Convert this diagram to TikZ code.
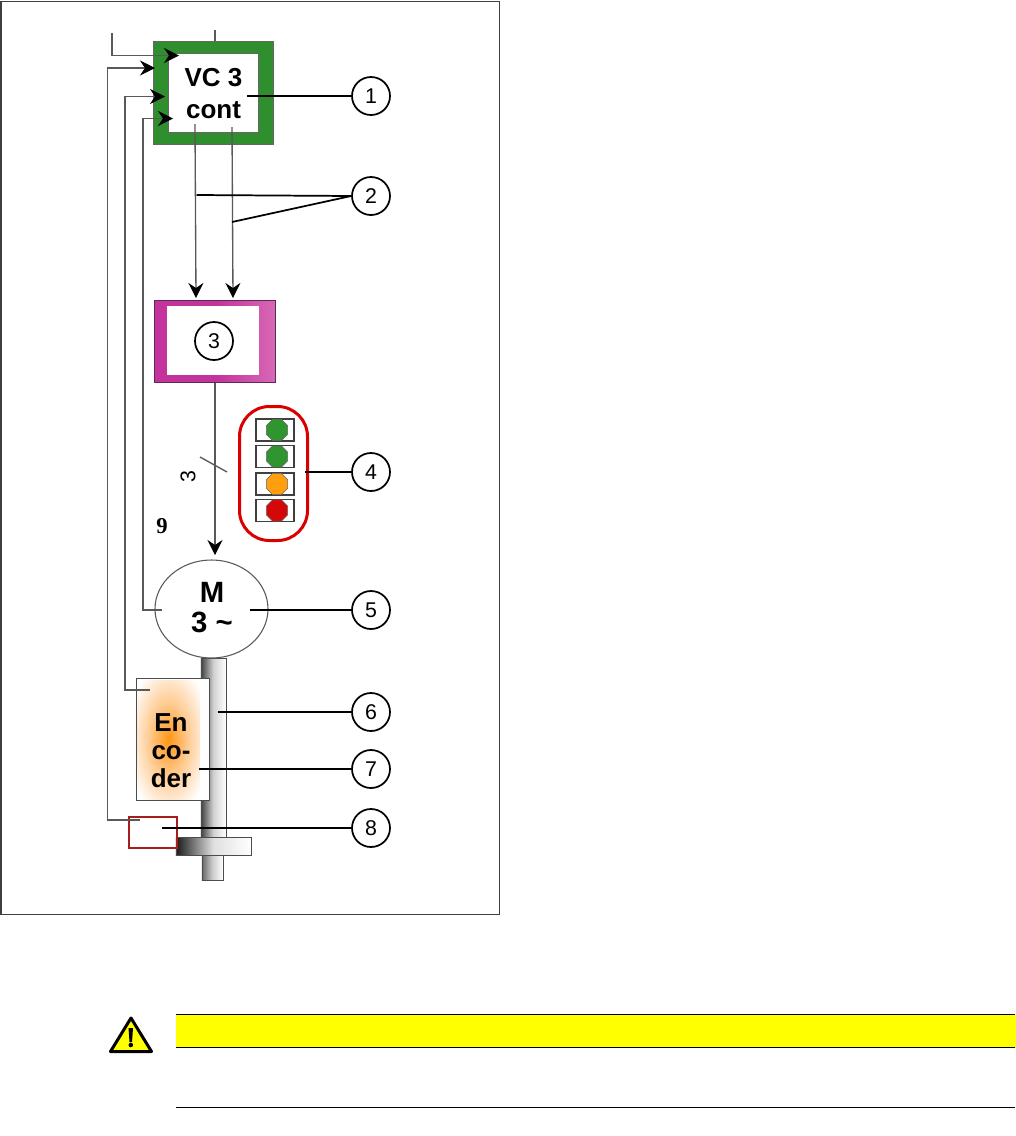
\documentclass[tikz,border=0pt]{standalone}
\usepackage{fontspec}
\setmainfont{Liberation Sans}
\newfontfamily\serifnine{Liberation Serif}
\usetikzlibrary{arrows.meta,shapes.geometric}
\definecolor{vcgreen}{HTML}{2F8F2F}
\definecolor{magentab}{HTML}{C4329C}
\definecolor{magental}{HTML}{D868B4}
\definecolor{magentad}{HTML}{5A2A58}
\definecolor{ledg}{HTML}{2F962F}
\definecolor{ledo}{HTML}{FF9F10}
\definecolor{ledr}{HTML}{D40808}
\definecolor{dred}{HTML}{A81C1C}
\definecolor{pureyellow}{RGB}{255,255,0}
\definecolor{glowa}{RGB}{255,150,20}
\definecolor{glowb}{RGB}{255,205,150}
\pgfdeclareradialshading{glow}{\pgfpointorigin}{color(0bp)=(glowa); color(16bp)=(glowb); color(33bp)=(white); color(50bp)=(white)}
\newdimen\PX \PX=0.75pt
\tikzset{
  wire/.style={draw=black!65,line width=1pt},
  arr/.style={wire,-{Stealth[length=11.25pt,width=11.25pt,inset=3.75pt,black]}},
  lead/.style={draw=black,line width=1.3pt},
  callout/.style={circle,draw=black,line width=1.3pt,fill=white,minimum size=38\PX,inner sep=0pt,font=\fontsize{16pt}{17pt}\selectfont},
  boldt/.style={font=\bfseries\fontsize{19.5pt}{24pt}\selectfont,align=center,inner sep=0pt},
  ledbox/.style={draw=black!75,line width=.8pt,fill=white,minimum width=38\PX,minimum height=22\PX,inner sep=0pt},
  led/.style={regular polygon,regular polygon sides=8,draw=black!60,line width=.4pt,minimum size=23\PX,inner sep=0pt},
  tl/.style={inner sep=0pt,anchor=north west},
}
\begin{document}
\begin{tikzpicture}[x=0.75pt,y=-0.75pt]
\useasboundingbox (0,0) rectangle (1015,1136);
\fill[white] (0,0) rectangle (1015,1136);
\node[tl,draw=black!75,line width=.9pt,minimum width=498.5\PX,minimum height=913.5\PX] (frame) at (0.5,0.5) {};
% shaft
\node[tl,draw=black!70,line width=.5pt,minimum width=25\PX,minimum height=180\PX,left color=black!75,right color=white,middle color=black!18] (shaft) at (200.5,658) {};
\node[tl,draw=black!70,line width=.5pt,minimum width=21\PX,minimum height=26\PX,left color=black!60,right color=white,middle color=black!20] (shaftend) at (201.5,854) {};
\node[tl,draw=black!70,line width=.5pt,minimum width=75\PX,minimum height=18\PX,left color=black!90,right color=white,middle color=black!12] (disc) at (175.5,837) {};
% VC
\node[tl,draw=black!60,line width=.6pt,fill=vcgreen,minimum width=120\PX,minimum height=103.5\PX] (vcouter) at (152.5,40.5) {};
\node[tl,draw=black!60,line width=.6pt,fill=white,minimum width=89.5\PX,minimum height=79.5\PX] (vcinner) at (168,52.5) {};
\node[boldt] (vctext) at (213.5,94) {VC 3\\cont};
% Magenta
\node[tl,draw=magentad,line width=.9pt,minimum width=121\PX,minimum height=82\PX,left color=magentab,right color=magental,middle color=magentab] (pwr) at (154,299.5) {};
\node[tl,fill=white,minimum width=92\PX,minimum height=69\PX] (pwrin) at (167,306) {};
% LEDs
\node[tl,draw=red!85!black,line width=3\PX,rounded corners=30\PX,minimum width=68\PX,minimum height=134\PX] (ledgroup) at (238,405) {};
\node[ledbox] (b1) at (275,430) {}; \node[led,fill=ledg] (l1) at (277,430) {};
\node[ledbox] (b2) at (275,456.5) {}; \node[led,fill=ledg] (l2) at (277,456.5) {};
\node[ledbox] (b3) at (275,484) {}; \node[led,fill=ledo] (l3) at (277,484) {};
\node[ledbox] (b4) at (275,510.5) {}; \node[led,fill=ledr] (l4) at (277,510.5) {};
% Motor
\node[ellipse,draw=black!65,line width=.8pt,fill=white,minimum width=113\PX,minimum height=98\PX,inner sep=0pt] (motor) at (211.5,609) {};
\node[boldt,font=\bfseries\fontsize{22pt}{22.5pt}\selectfont] (mtext) at (212,608) {M\\3 \textasciitilde};
% Encoder
\node[tl,draw=black!70,line width=.8pt,minimum width=72.5\PX,minimum height=122\PX,fill=white] (enc) at (136,678) {};
\shade[shading=glow] (137,680) rectangle (200,799);
\node[boldt,font=\bfseries\fontsize{19.5pt}{21pt}\selectfont] (etext) at (171,751) {En\\co-\\der};
% Sensor
\node[tl,draw=dred,line width=2\PX,minimum width=48\PX,minimum height=31\PX] (sensor) at (128,815.5) {};
% Coordinates
\coordinate (a0) at (112,33);
\coordinate (a1e) at (179,55.5);
\coordinate (a2e) at (155,68);
\coordinate (a3e) at (165,96.5);
\coordinate (a4e) at (173,118.5);
\coordinate (s2) at (140,820);
\coordinate (s3) at (150,690);
\coordinate (s4) at (162,610);
\coordinate (top) at (215,30);
\coordinate (o1) at (195,124);
\coordinate (o2) at (232,127);
\coordinate (i1) at (196,298);
\coordinate (i2) at (233,298);
\coordinate (mot) at (215,555);
\coordinate (bar1) at (200,457);
\coordinate (bar2) at (227,472);
% wires
\draw[arr] (a0) |- (a1e);
\draw[arr] (s2) -- (107.5,820) -- (107.5,68) -- (a2e);
\draw[arr] (s3) -- (125,690) -- (125,96.5) -- (a3e);
\draw[arr] (s4) -- (143,610) -- (143,118.5) -- (a4e);
\draw[wire] (top) -- (top |- vcouter.north);
\draw[arr] (o1) -- (i1);
\draw[arr] (o2) -- (i2);
\draw[arr] (mot |- pwr.south) -- (mot);
\draw[wire] (bar1) -- (bar2);
\node[rotate=90,font=\fontsize{16pt}{17pt}\selectfont,inner sep=0pt] (three) at (188,477) {3};
\node[font=\serifnine\bfseries\fontsize{17pt}{17pt}\selectfont,inner sep=0pt] (nine) at (162,526) {9};
% callouts
\node[callout] (c1) at (371,96) {1};
\node[callout] (c2) at (371,196) {2};
\node[callout] (c3) at (214,341) {3};
\node[callout] (c4) at (371,472) {4};
\node[callout] (c5) at (371,610) {5};
\node[callout] (c6) at (371,712) {6};
\node[callout] (c7) at (371,769) {7};
\node[callout] (c8) at (371,828) {8};
\coordinate (t1) at (247,96); \coordinate (t2a) at (196.5,195); \coordinate (t2b) at (232,222);
\coordinate (t4) at (305,472); \coordinate (t5) at (250,610); \coordinate (t6) at (218,712);
\coordinate (t7) at (199,769); \coordinate (t8) at (161.5,828);
\draw[lead] (t1) -- (c1); \draw[lead] (t2a) -- (c2.west); \draw[lead] (t2b) -- (c2.west);
\draw[lead] (t4) -- (c4); \draw[lead] (t5) -- (c5); \draw[lead] (t6) -- (c6);
\draw[lead] (t7) -- (c7); \draw[lead] (t8) -- (c8);
% warning
\node[tl,fill=pureyellow,minimum width=840\PX,minimum height=33\PX] (bar) at (175.5,1014.5) {};
\coordinate (barNW) at (175.5,1014.5); \coordinate (barNE) at (1015,1014.5);
\coordinate (barSW) at (175.5,1047.5); \coordinate (barSE) at (1015,1047.5);
\draw[black,line width=1\PX] (barNW) -- (barNE) (barSW) -- (barSE);
\coordinate (ruleL) at (175.5,1107.5); \coordinate (ruleR) at (1015,1107.5);
\draw[black,line width=1\PX] (ruleL) -- (ruleR);
\coordinate (w1) at (131,1018); \coordinate (w2) at (110.5,1051.5); \coordinate (w3) at (151.5,1051.5);
\draw[black,fill=pureyellow,line width=3\PX,line join=round] (w1) -- (w2) -- (w3) -- cycle;
\fill[black] (128.5,1028) -- (133,1028) -- (132,1042) -- (129.5,1042) -- cycle;
\fill[black] (130.8,1045) circle (2.3\PX);
\end{tikzpicture}
\end{document}
